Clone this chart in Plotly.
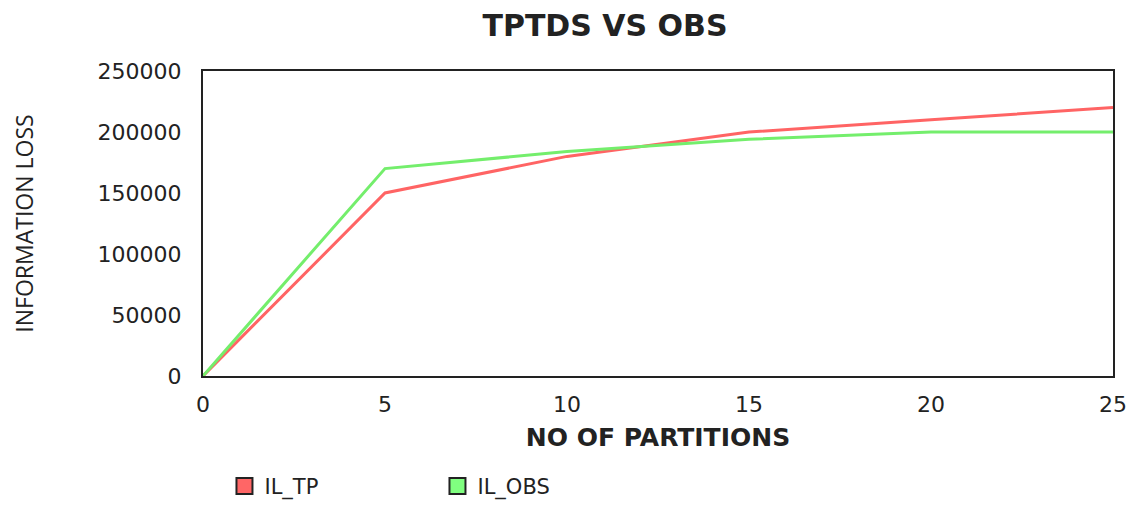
import plotly.graph_objects as go

partitions = [0, 5, 10, 15, 20, 25]
il_tp = [0, 150000, 180000, 200000, 210000, 220000]
il_obs = [0, 170000, 184000, 194000, 200000, 200000]
y_ticks = [0, 50000, 100000, 150000, 200000, 250000]
y_tick_text = ["0", "50000", "100000", "150000", "200000", "250000"]
series_names = ["IL_TP", "IL_OBS"]
line_colors = ["#ff6464", "#74ee6c"]
legend_colors = ["#ff6666", "#80ff80"]

# page body has an 8px margin; size the figure so the page fits the window
W, H, OFF = 1135 - 16, 509 - 16, 8

FONT = "DejaVu Sans"
fig = go.Figure()
for name, ys, lc in zip(series_names, [il_tp, il_obs], line_colors):
    fig.add_trace(go.Scatter(x=partitions, y=ys, mode="lines", name=name,
                             line=dict(color=lc, width=3), showlegend=False))
for name, fc in zip(series_names, legend_colors):
    fig.add_trace(go.Scatter(x=[None], y=[None], mode="markers", name=name,
                             marker=dict(symbol="square", size=18, color=fc,
                                         line=dict(color="#222", width=2))))

fig.update_layout(
    width=W, height=H,
    margin=dict(l=203 - OFF, r=1135 - 1113 - OFF, t=71 - OFF, b=509 - 376 - OFF,
                autoexpand=False),
    paper_bgcolor="white", plot_bgcolor="white",
    font=dict(family=FONT, color="#222"),
    title=dict(text="<b>TPTDS VS OBS</b>", x=(605 - OFF) / W, xanchor="center",
               y=1 - (25 - OFF) / H, yanchor="middle",
               font=dict(family=FONT, size=30, color="#222")),
    showlegend=True,
    legend=dict(orientation="h", x=0.0236, xanchor="left", y=-0.362, yanchor="middle",
                font=dict(family=FONT, size=21, color="#222"),
                entrywidthmode="pixels", entrywidth=168),
    xaxis=dict(range=[0, 25], tickvals=partitions, showgrid=False, zeroline=False,
               showline=True, linecolor="#222", linewidth=2, mirror=True,
               ticks="", ticklabelstandoff=8, automargin=False,
               tickfont=dict(family=FONT, size=22, color="#222"),
               title=dict(text="<b>NO OF PARTITIONS</b>", standoff=12,
                          font=dict(family=FONT, size=25, color="#222"))),
    yaxis=dict(range=[0, 250000], tickvals=y_ticks, ticktext=y_tick_text,
               showgrid=False, zeroline=False,
               showline=True, linecolor="#222", linewidth=2, mirror=True,
               ticks="", ticklabelstandoff=15, automargin=False,
               tickfont=dict(family=FONT, size=22, color="#222"),
               title=dict(text="INFORMATION LOSS", standoff=66,
                          font=dict(family="Open Sans", size=23, color="#222"))),
)

fig.write_html("out.html")
